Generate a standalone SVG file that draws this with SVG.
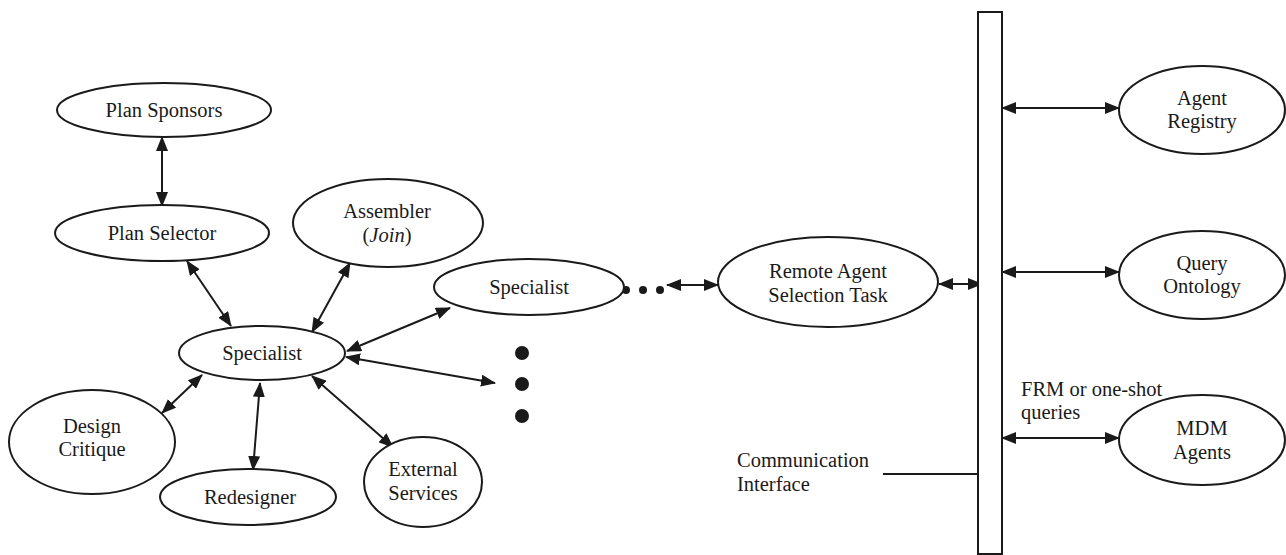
<svg xmlns="http://www.w3.org/2000/svg" width="1286" height="555" viewBox="0 0 1286 555">
<style>
.n{fill:#fff;stroke:#1a1a1a;stroke-width:2}
.t{font-family:"Liberation Serif","Times New Roman",serif;font-size:20.5px;fill:#1a1a1a;text-anchor:middle}
.l{font-family:"Liberation Serif","Times New Roman",serif;font-size:20.5px;fill:#1a1a1a}
.c{stroke:#1a1a1a;stroke-width:2;fill:none}
.a{marker-start:url(#ah);marker-end:url(#ah)}
</style>
<defs>
<marker id="ah" viewBox="0 0 15 12" refX="14" refY="6" markerWidth="15" markerHeight="12" markerUnits="userSpaceOnUse" orient="auto-start-reverse">
<path d="M0,0 L15,6 L0,12 z" fill="#1a1a1a"/>
</marker>
</defs>
<rect x="0" y="0" width="1286" height="555" fill="#fff"/>
<g id="connectors">
<line class="c a" x1="162" y1="137" x2="162" y2="206"/>
<line class="c a" x1="187" y1="261" x2="231" y2="326"/>
<line class="c a" x1="350" y1="263" x2="312" y2="332"/>
<line class="c a" x1="347" y1="351" x2="450" y2="308"/>
<line class="c a" x1="346" y1="357" x2="495" y2="383"/>
<line class="c a" x1="312" y1="376" x2="393" y2="447"/>
<line class="c a" x1="260" y1="383" x2="253" y2="470"/>
<line class="c a" x1="202" y1="375" x2="162" y2="413"/>
<line class="c a" x1="667" y1="285" x2="718" y2="285"/>
<line class="c a" x1="939" y1="284" x2="982" y2="284"/>
<line class="c a" x1="1002" y1="108" x2="1119" y2="108"/>
<line class="c a" x1="1002" y1="272" x2="1119" y2="272"/>
<line class="c a" x1="1002" y1="438" x2="1119" y2="438"/>
<line class="c" x1="883" y1="474" x2="978" y2="474"/>
<circle cx="626" cy="290" r="4" fill="#1a1a1a"/>
<circle cx="643" cy="290" r="4" fill="#1a1a1a"/>
<circle cx="660" cy="290" r="4" fill="#1a1a1a"/>
<circle cx="522" cy="353" r="7" fill="#1a1a1a"/>
<circle cx="522" cy="384" r="7" fill="#1a1a1a"/>
<circle cx="522" cy="416" r="7" fill="#1a1a1a"/>
</g>
<g id="plan-sponsors"><ellipse class="n" cx="164" cy="110" rx="107" ry="27"/><text class="t" x="164" y="117">Plan Sponsors</text></g>
<g id="plan-selector"><ellipse class="n" cx="162" cy="233" rx="107" ry="28"/><text class="t" x="162" y="240">Plan Selector</text></g>
<g id="assembler"><ellipse class="n" cx="388" cy="223" rx="95" ry="44"/><text class="t" x="387" y="218">Assembler</text><text class="t" x="387" y="242">(<tspan font-style="italic">Join</tspan>)</text></g>
<g id="specialist"><ellipse class="n" cx="262" cy="353" rx="83" ry="27"/><text class="t" x="262" y="360">Specialist</text></g>
<g id="specialist-2"><ellipse class="n" cx="529" cy="287" rx="95" ry="28"/><text class="t" x="529" y="294">Specialist</text></g>
<g id="design-critique"><ellipse class="n" cx="92" cy="442" rx="83" ry="52"/><text class="t" x="92" y="433">Design</text><text class="t" x="92" y="456">Critique</text></g>
<g id="redesigner"><ellipse class="n" cx="248" cy="497" rx="88" ry="28"/><text class="t" x="250" y="504">Redesigner</text></g>
<g id="external-services"><ellipse class="n" cx="423" cy="482" rx="59" ry="45"/><text class="t" x="423" y="476">External</text><text class="t" x="423" y="500">Services</text></g>
<g id="remote-agent"><ellipse class="n" cx="828" cy="282" rx="110" ry="45"/><text class="t" x="828" y="278">Remote Agent</text><text class="t" x="828" y="302">Selection Task</text></g>
<g id="comm-interface"><rect class="n" x="978" y="12" width="24" height="542"/><text class="l" x="737" y="467">Communication</text><text class="l" x="737" y="491">Interface</text></g>
<g id="agent-registry"><ellipse class="n" cx="1202" cy="110" rx="83" ry="44"/><text class="t" x="1202" y="105">Agent</text><text class="t" x="1202" y="128">Registry</text></g>
<g id="query-ontology"><ellipse class="n" cx="1202" cy="275" rx="83" ry="44"/><text class="t" x="1202" y="270">Query</text><text class="t" x="1202" y="293">Ontology</text></g>
<g id="mdm-agents"><ellipse class="n" cx="1202" cy="440" rx="83" ry="45"/><text class="t" x="1202" y="435">MDM</text><text class="t" x="1202" y="459">Agents</text></g>
<g id="frm-label"><text class="l" x="1021" y="396">FRM or one-shot</text><text class="l" x="1021" y="419">queries</text></g>
</svg>
